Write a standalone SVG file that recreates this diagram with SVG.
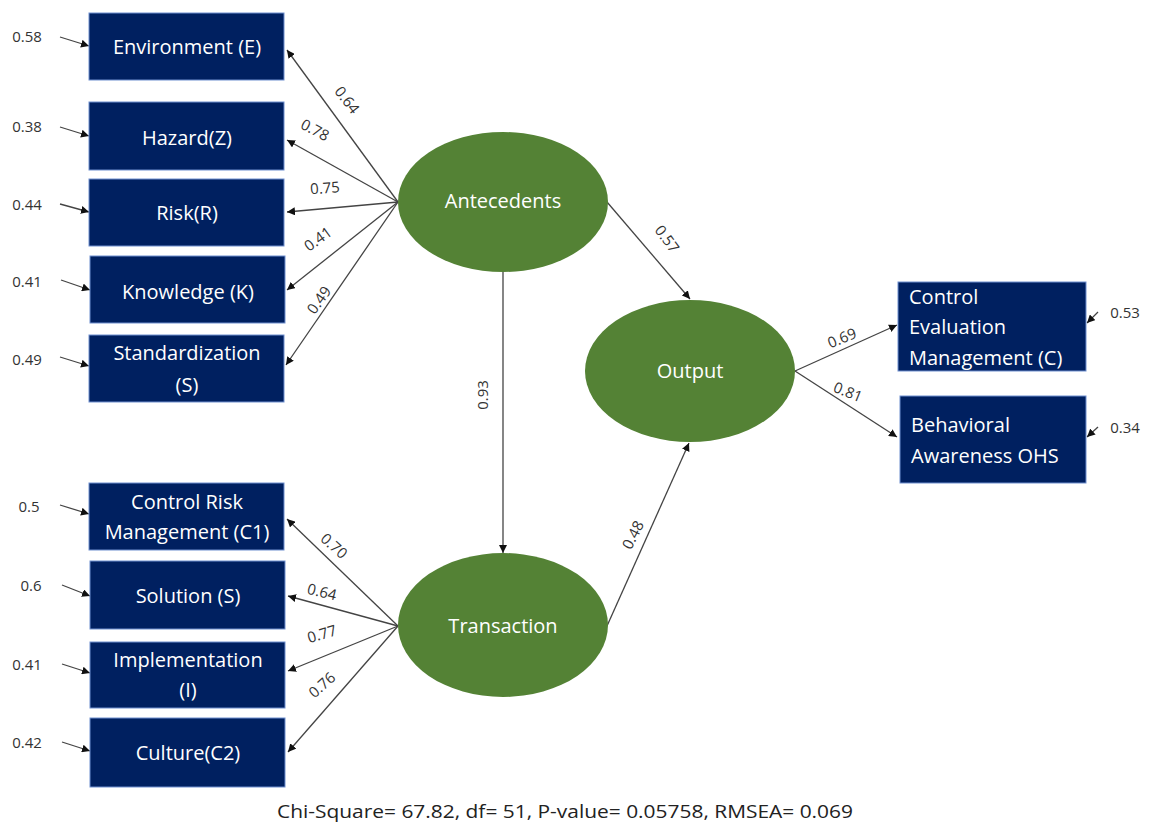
<svg xmlns="http://www.w3.org/2000/svg" width="1149" height="826" viewBox="0 0 1149 826">
<defs>
<marker id="ah" viewBox="0 0 10 10" refX="10" refY="5" markerWidth="8" markerHeight="8" markerUnits="userSpaceOnUse" orient="auto">
<path d="M0,0 L10,5 L0,10 z" fill="#111"/>
</marker>
</defs>
<style>
.box{fill:#002060;stroke:#6f8fcf;stroke-width:1}
.lat{fill:#548235}
.nt{font-family:"Open Sans","Liberation Sans",sans-serif;font-size:20px;fill:#fff;text-anchor:middle}
.nl{font-family:"Open Sans","Liberation Sans",sans-serif;font-size:20px;fill:#fff}
.num{font-family:"Open Sans","Liberation Sans",sans-serif;font-size:15px;fill:#333;text-anchor:middle}
.edge{stroke:#444;stroke-width:1.3;fill:none;marker-end:url(#ah)}
.foot{font-family:"Open Sans","Liberation Sans",sans-serif;font-size:19px;fill:#222;text-anchor:middle}
</style>
<rect width="1149" height="826" fill="#fff"/>

<g id="connectors">
<line class="edge" x1="398" y1="202" x2="287" y2="50"/>
<line class="edge" x1="398" y1="202" x2="287" y2="140"/>
<line class="edge" x1="398" y1="202" x2="287" y2="212"/>
<line class="edge" x1="398" y1="202" x2="287" y2="290"/>
<line class="edge" x1="398" y1="202" x2="286" y2="365"/>
<line class="edge" x1="398" y1="626" x2="287" y2="519"/>
<line class="edge" x1="398" y1="626" x2="288" y2="596"/>
<line class="edge" x1="398" y1="626" x2="288" y2="671"/>
<line class="edge" x1="398" y1="626" x2="288" y2="752"/>
<line class="edge" x1="607" y1="202" x2="690" y2="299"/>
<line class="edge" x1="503" y1="272" x2="503" y2="553"/>
<line class="edge" x1="607" y1="626" x2="689" y2="443"/>
<line class="edge" x1="795" y1="371" x2="897" y2="325"/>
<line class="edge" x1="795" y1="371" x2="897" y2="437"/>
<line class="edge" x1="60" y1="37" x2="89" y2="46"/>
<line class="edge" x1="60" y1="127" x2="89" y2="136"/>
<line class="edge" x1="60" y1="204" x2="89" y2="212"/>
<line class="edge" x1="61" y1="280" x2="90" y2="290"/>
<line class="edge" x1="60" y1="357" x2="89" y2="366"/>
<line class="edge" x1="60" y1="505" x2="89" y2="514"/>
<line class="edge" x1="62" y1="585" x2="90" y2="596"/>
<line class="edge" x1="62" y1="664" x2="90" y2="673"/>
<line class="edge" x1="62" y1="742" x2="90" y2="751"/>
<line class="edge" x1="1098" y1="312" x2="1087" y2="323"/>
<line class="edge" x1="1098" y1="427" x2="1087" y2="437"/>

<text class="num" transform="translate(347,100) rotate(52)" dy="0.35em">0.64</text>
<text class="num" transform="translate(315,130) rotate(28)" dy="0.35em">0.78</text>
<text class="num" transform="translate(325,188) rotate(-4)" dy="0.35em">0.75</text>
<text class="num" transform="translate(318,239) rotate(-36)" dy="0.35em">0.41</text>
<text class="num" transform="translate(319,300) rotate(-55)" dy="0.35em">0.49</text>
<text class="num" transform="translate(334,546) rotate(42)" dy="0.35em">0.70</text>
<text class="num" transform="translate(322,592) rotate(14)" dy="0.35em">0.64</text>
<text class="num" transform="translate(322,634) rotate(-17)" dy="0.35em">0.77</text>
<text class="num" transform="translate(322,685) rotate(-42)" dy="0.35em">0.76</text>
<text class="num" transform="translate(667,239) rotate(53)" dy="0.35em">0.57</text>
<text class="num" transform="translate(483,395) rotate(-90)" dy="0.35em">0.93</text>
<text class="num" transform="translate(633,535) rotate(-63)" dy="0.35em">0.48</text>
<text class="num" transform="translate(842,338) rotate(-22)" dy="0.35em">0.69</text>
<text class="num" transform="translate(848,392) rotate(22)" dy="0.35em">0.81</text>

<text class="num" x="27" y="37" dy="0.35em">0.58</text>
<text class="num" x="27" y="127" dy="0.35em">0.38</text>
<text class="num" x="27" y="205" dy="0.35em">0.44</text>
<text class="num" x="27" y="282" dy="0.35em">0.41</text>
<text class="num" x="27" y="360" dy="0.35em">0.49</text>
<text class="num" x="29" y="507" dy="0.35em">0.5</text>
<text class="num" x="31" y="586" dy="0.35em">0.6</text>
<text class="num" x="27" y="665" dy="0.35em">0.41</text>
<text class="num" x="27" y="743" dy="0.35em">0.42</text>
<text class="num" x="1125" y="313" dy="0.35em">0.53</text>
<text class="num" x="1125" y="428" dy="0.35em">0.34</text>
</g>

<g id="env"><rect class="box" x="89" y="13" width="195" height="67"/><text class="nt" x="187" y="47" dy="0.35em">Environment (E)</text></g>
<g id="hazard"><rect class="box" x="89" y="102" width="195" height="68"/><text class="nt" x="187" y="138" dy="0.35em">Hazard(Z)</text></g>
<g id="risk"><rect class="box" x="89" y="179" width="195" height="67"/><text class="nt" x="187" y="213" dy="0.35em">Risk(R)</text></g>
<g id="knowledge"><rect class="box" x="90" y="256" width="195" height="67"/><text class="nt" x="188" y="292" dy="0.35em">Knowledge (K)</text></g>
<g id="standardization"><rect class="box" x="89" y="335" width="195" height="67"/><text class="nt" x="187" y="353" dy="0.35em">Standardization</text><text class="nt" x="187" y="385" dy="0.35em">(S)</text></g>

<g id="crm"><rect class="box" x="89" y="483" width="195" height="67"/><text class="nt" x="187" y="502" dy="0.35em">Control Risk</text><text class="nt" x="187" y="532" dy="0.35em">Management (C1)</text></g>
<g id="solution"><rect class="box" x="90" y="561" width="195" height="68"/><text class="nt" x="188" y="596" dy="0.35em">Solution (S)</text></g>
<g id="implementation"><rect class="box" x="90" y="642" width="195" height="66"/><text class="nt" x="188" y="660" dy="0.35em">Implementation</text><text class="nt" x="188" y="690" dy="0.35em">(I)</text></g>
<g id="culture"><rect class="box" x="90" y="718" width="195" height="69"/><text class="nt" x="188" y="753" dy="0.35em">Culture(C2)</text></g>

<g id="antecedents"><ellipse class="lat" cx="503" cy="202" rx="105" ry="70"/><text class="nt" x="503" y="201" dy="0.35em">Antecedents</text></g>
<g id="transaction"><ellipse class="lat" cx="503" cy="625" rx="105" ry="72"/><text class="nt" x="503" y="626" dy="0.35em">Transaction</text></g>
<g id="output"><ellipse class="lat" cx="690" cy="371" rx="105" ry="71"/><text class="nt" x="690" y="371" dy="0.35em">Output</text></g>

<g id="cem"><rect class="box" x="898" y="282" width="188" height="89"/><text class="nl" x="909" y="297" dy="0.35em">Control</text><text class="nl" x="909" y="327" dy="0.35em">Evaluation</text><text class="nl" x="909" y="358" dy="0.35em">Management (C)</text></g>
<g id="bao"><rect class="box" x="900" y="396" width="186" height="87"/><text class="nl" x="911" y="425" dy="0.35em">Behavioral</text><text class="nl" x="911" y="456" dy="0.35em">Awareness OHS</text></g>

<text class="foot" x="565" y="811" dy="0.35em" textLength="576" lengthAdjust="spacingAndGlyphs">Chi-Square= 67.82, df= 51, P-value= 0.05758, RMSEA= 0.069</text>
</svg>
